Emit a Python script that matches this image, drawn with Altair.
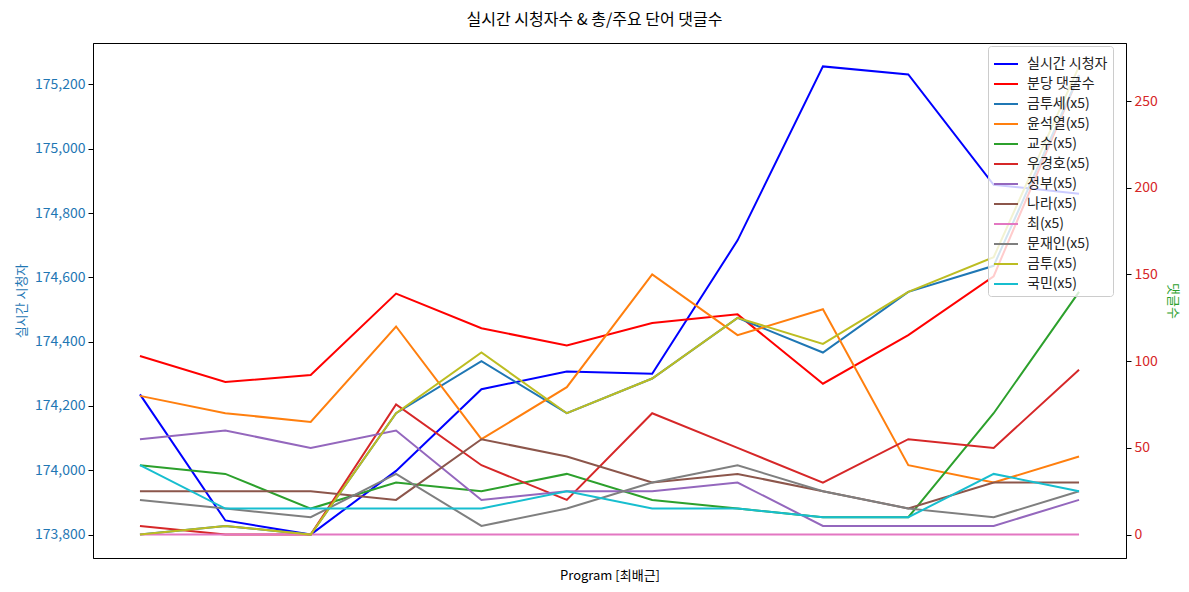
import altair as alt
import pandas as pd

FONT = "Noto Sans CJK KR"

# x positions (12 program minutes, unlabeled)
idx = list(range(12))

# left axis: live viewers
viewers = [174236, 173844, 173800, 173998, 174252, 174307, 174300, 174715, 175256, 175231, 174888, 174860]

# right axis: comments per minute and key words (x5)
comments = [103, 88, 92, 139, 119, 109, 122, 127, 87, 115, 149, 265]
w_geumtuse = [0, 5, 0, 70, 100, 70, 90, 125, 105, 140, 155, 265]
w_yoon = [80, 70, 65, 120, 55, 85, 150, 115, 130, 40, 30, 45]
w_gyosu = [40, 35, 15, 30, 25, 35, 20, 15, 10, 10, 70, 140]
w_woo = [5, 0, 0, 75, 40, 20, 70, 50, 30, 55, 50, 95]
w_jeongbu = [55, 60, 50, 60, 20, 25, 25, 30, 5, 5, 5, 20]
w_nara = [25, 25, 25, 20, 55, 45, 30, 35, 25, 15, 30, 30]
w_choi = [0, 0, 0, 0, 0, 0, 0, 0, 0, 0, 0, 0]
w_moon = [20, 15, 10, 35, 5, 15, 30, 40, 25, 15, 10, 25]
w_geumtu = [0, 5, 0, 70, 105, 70, 90, 125, 110, 140, 160, 270]
w_gukmin = [40, 15, 15, 15, 15, 25, 15, 15, 10, 10, 35, 25]

series_names = ["실시간 시청자", "분당 댓글수", "금투세(x5)", "윤석열(x5)", "교수(x5)", "우경호(x5)",
                "정부(x5)", "나라(x5)", "최(x5)", "문재인(x5)", "금투(x5)", "국민(x5)"]
series_colors = ["#0000ff", "#ff0000", "#1f77b4", "#ff7f0e", "#2ca02c", "#d62728",
                 "#9467bd", "#8c564b", "#e377c2", "#7f7f7f", "#bcbd22", "#17becf"]

right_series = [comments, w_geumtuse, w_yoon, w_gyosu, w_woo, w_jeongbu, w_nara,
                w_choi, w_moon, w_geumtu, w_gukmin]

left_df = pd.DataFrame({"idx": idx, "value": viewers, "series": series_names[0], "order": 0})
rows = []
for k, vals in enumerate(right_series):
    for i, v in zip(idx, vals):
        rows.append({"idx": i, "value": v, "series": series_names[k + 1], "order": k + 1})
right_df = pd.DataFrame(rows)

color = alt.Color("series:N",
                  scale=alt.Scale(domain=series_names, range=series_colors),
                  legend=alt.Legend(title=None, orient="none", legendX=895, legendY=3,
                                    symbolType="stroke", symbolStrokeWidth=2, symbolSize=576,
                                    labelFontSize=14, labelFont=FONT, labelColor="#222222",
                                    labelOffset=8, rowPadding=-1, padding=5,
                                    fillColor="rgba(255,255,255,0.8)",
                                    strokeColor="#cccccc", cornerRadius=3, labelLimit=200))

xenc = alt.X("idx:Q", scale=alt.Scale(domain=[-0.55, 11.55], nice=False, zero=False),
             axis=alt.Axis(labels=False, ticks=False, domain=False, grid=False,
                           title="Program [최배근]", titleFont=FONT, titleFontSize=13,
                           titleFontWeight="normal", titleColor="#000000", titlePadding=11))

left = alt.Chart(left_df).mark_line(strokeWidth=2).encode(
    x=xenc,
    y=alt.Y("value:Q",
            scale=alt.Scale(domain=[173727.2, 175328.8], nice=False, zero=False),
            axis=alt.Axis(orient="left", values=[173800, 174000, 174200, 174400, 174600, 174800, 175000, 175200],
                          labelExpr="format(datum.value, ',')", grid=False,
                          domainColor="#000000", tickColor="#000000",
                          tickSize=5, labelColor="#1f77b4", labelFont=FONT, labelFontSize=14,
                          labelPadding=3, title="실시간 시청자", titleColor="#1f77b4",
                          titleFont=FONT, titleFontSize=13, titleFontWeight="normal", titlePadding=6)),
    color=color,
)

right = alt.Chart(right_df).mark_line(strokeWidth=2).encode(
    x=xenc,
    y=alt.Y("value:Q",
            scale=alt.Scale(domain=[-13.5, 283.5], nice=False, zero=False),
            axis=alt.Axis(orient="right", values=[0, 50, 100, 150, 200, 250],
                          grid=False, domainColor="#000000", tickColor="#000000",
                          tickSize=5, labelColor="#d62728", labelFont=FONT, labelFontSize=14,
                          labelPadding=3, title="댓글수", titleColor="#2ca02c",
                          titleFont=FONT, titleFontSize=13, titleFontWeight="normal", titlePadding=8)),
    color=color,
    order="order:Q",
)

chart = alt.layer(left, right).resolve_scale(y="independent").properties(
    width=1033,
    height=515,
    background="white",
    autosize=alt.AutoSizeParams(type="none"),
    padding={"left": 93, "top": 43, "right": 63, "bottom": 34},
    title=alt.TitleParams("실시간 시청자수 & 총/주요 단어 댓글수", font=FONT, fontSize=16,
                          fontWeight="normal", color="#000000", anchor="middle",
                          offset=15, dx=-15),
).configure_view(stroke="#000000", strokeWidth=1)

chart.save("out.html", embed_options={"renderer": "svg", "actions": False})
